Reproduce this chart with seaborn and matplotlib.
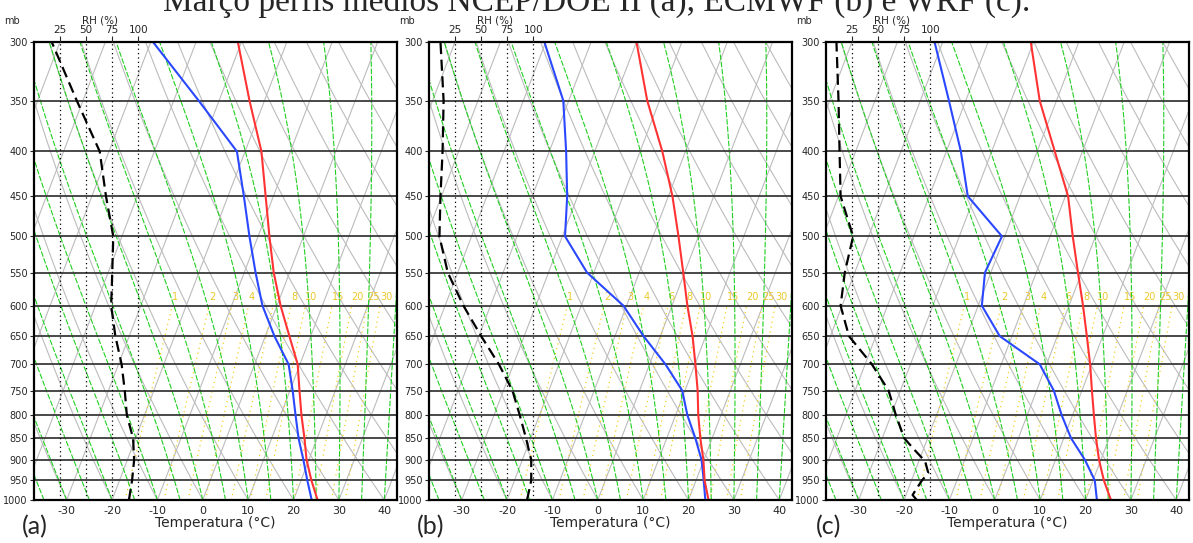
import numpy as np
import pandas as pd
import matplotlib
matplotlib.use("Agg")
import matplotlib.pyplot as plt
import seaborn as sns

# ---------------- data ----------------
p_levels = [1000, 950, 900, 850, 800, 750, 700, 650, 600, 550, 500, 450, 400, 350, 300]

# (a) NCEP/DOE II
t_ncep = [25.3, 22.3, 19.5, 17.2, 14.6, 12.1, 9.5, 5.3, 0.8, -3.5, -7.5, -11.7, -16.4, -23.3, -30.8]
td_ncep = [24.0, 21.4, 18.8, 15.9, 13.3, 10.6, 7.5, 2.0, -3.2, -7.5, -11.9, -16.5, -21.8, -34.5, -49.5]
rh_ncep = [91, 94, 96, 95, 89, 87, 84, 78, 74, 75, 76, 69, 63, 41, 17]

# (b) ECMWF
t_ecmwf = [24.4, 21.9, 19.9, 17.4, 15.0, 12.8, 10.1, 7.1, 3.4, -0.3, -4.4, -9.1, -15.1, -22.7, -30.0]
td_ecmwf = [23.7, 21.7, 19.5, 16.3, 12.6, 9.4, 3.5, -3.7, -10.7, -21.5, -29.4, -32.3, -36.3, -41.2, -50.3]
rh_ecmwf = [94, 98, 98, 93, 87, 80, 67, 50, 33, 18, 10, 11, 13, 14, 11]

# (c) WRF
t_wrf = [25.6, 22.4, 19.6, 17.1, 14.7, 12.2, 9.6, 6.5, 3.1, -0.8, -5.0, -9.4, -16.1, -23.7, -30.6]
td_wrf = [22.5, 20.4, 16.5, 11.6, 7.6, 3.8, -1.5, -12.7, -19.2, -21.3, -20.6, -31.5, -36.8, -43.7, -51.8]
p_rh_wrf = [1000, 987, 974, 950, 931, 903, 877, 850, 800, 750, 700, 650, 600, 550, 500, 450, 400, 350, 300]
rh_wrf = [87, 83, 86, 92, 98, 95, 85, 75, 67, 60, 44, 22, 14, 18, 26, 14, 13, 12, 10]

panel_letters = ["(a)", "(b)", "(c)"]
pressure_ticks = [300, 350, 400, 450, 500, 550, 600, 650, 700, 750, 800, 850, 900, 950, 1000]
temp_ticks = [-30, -20, -10, 0, 10, 20, 30, 40]
rh_ticks = [25, 50, 75, 100]
mixing_ratios = [1, 2, 3, 4, 6, 8, 10, 15, 20, 25, 30]
title_text = "Março perfis médios NCEP/DOE II (a), ECMWF (b) e WRF (c)."

# ---------------- thermodynamic helpers ----------------
SKEW = 32.0


def skew(T, p):
    return np.asarray(T, float) + SKEW * np.log(1000.0 / np.asarray(p, float))


def es(tc):
    return 6.112 * np.exp(17.67 * tc / (tc + 243.5))


def moist_lapse(tk, p):
    Rd, cp, L, eps = 287.0, 1005.0, 2.5e6, 0.622
    e = es(tk - 273.15)
    rs = eps * e / (p - e)
    num = (Rd * tk / cp) * (1 + L * rs / (Rd * tk))
    den = 1 + L * L * rs * eps / (cp * Rd * tk * tk)
    return num / den


def moist_adiabat(t0, p):
    lnp = np.log(p)
    T = np.empty_like(p)
    T[0] = t0 + 273.15
    for i in range(1, len(p)):
        d = lnp[i] - lnp[i - 1]
        k1 = moist_lapse(T[i - 1], p[i - 1])
        Tm = T[i - 1] + k1 * d / 2
        pm = np.exp(lnp[i - 1] + d / 2)
        k2 = moist_lapse(Tm, pm)
        T[i] = T[i - 1] + k2 * d
    return T - 273.15


def mixing_td(w, p):
    e = w * p / (622.0 + w)
    a = np.log(e / 6.112)
    return 243.5 * a / (17.67 - a)


# ---------------- figure ----------------
sns.set_style("white")
plt.rcParams["font.family"] = ["DejaVu Sans"]
W, H = 1193, 543
fig = plt.figure(figsize=(W / 100, H / 100), dpi=100)
fig.patch.set_facecolor("white")

XMIN, XMAX = -37.2, 42.8
panels = [
    dict(left=34, T=t_ncep, Td=td_ncep, rh=rh_ncep, prh=p_levels, lx=22),
    dict(left=429, T=t_ecmwf, Td=td_ecmwf, rh=rh_ecmwf, prh=p_levels, lx=417),
    dict(left=826, T=t_wrf, Td=td_wrf, rh=rh_wrf, prh=p_rh_wrf, lx=816),
]

pp = np.geomspace(1000, 300, 160)

for i, pn in enumerate(panels):
    ax = fig.add_axes([pn["left"] / W, (H - 500) / H, 363 / W, 458 / H])
    ax.set_yscale("log")
    ax.set_xlim(XMIN, XMAX)
    ax.set_ylim(1000, 300)

    # isotherms
    for t0 in range(-140, 50, 10):
        ax.plot(skew(np.full_like(pp, t0), pp), pp, color="#bcbcbc", lw=0.8, zorder=1)
    # dry adiabats
    for t0 in range(-40, 200, 10):
        th = t0 + 273.15
        T = th * (pp / 1000.0) ** 0.2857 - 273.15
        ax.plot(skew(T, pp), pp, color="#bcbcbc", lw=0.8, zorder=1)
    # mixing ratio lines
    pm = np.geomspace(1000, 600, 60)
    for w in mixing_ratios:
        ax.plot(skew(mixing_td(w, pm), pm), pm, color="#f2d024", lw=0.9,
                ls=(0, (1, 3)), zorder=1.2)
        ax.text(skew(mixing_td(w, 600.0), 600.0), 594, str(w), color="#ecc82a",
                fontsize=7, ha="left", va="bottom", zorder=1.3, clip_on=True)
    # moist adiabats
    for t0 in np.arange(-40, 41, 5):
        T = moist_adiabat(float(t0), pp)
        ax.plot(skew(T, pp), pp, color="#22d022", lw=0.8, ls=(0, (5, 1.5)), zorder=1.5)

    # isobars
    for p in pressure_ticks[1:-1]:
        ax.axhline(p, color="#3a3a3a", lw=1.3, zorder=2)

    # RH axis
    ax2 = ax.twiny()
    ax2.set_xlim(0, 348)
    for r in rh_ticks:
        ax2.axvline(r, color="black", lw=0.9, ls=(0, (1, 2.5)), zorder=2)

    # data
    df = pd.DataFrame({"T": skew(pn["T"], p_levels), "Td": skew(pn["Td"], p_levels),
                       "p": p_levels})
    sns.lineplot(data=df, x="Td", y="p", sort=False, estimator=None, color="#2a48ff",
                 lw=1.5, ax=ax, zorder=4)
    sns.lineplot(data=df, x="T", y="p", sort=False, estimator=None, color="#ff3333",
                 lw=1.5, ax=ax, zorder=4)
    dfr = pd.DataFrame({"rh": pn["rh"], "p": pn["prh"]})
    sns.lineplot(data=dfr, x="rh", y="p", sort=False, estimator=None, color="black",
                 lw=1.6, ax=ax2, zorder=4)
    ax2.lines[-1].set_dashes([5, 2.5])
    ax2.set_ylim(1000, 300)

    # axes cosmetics
    ax.set_yticks(pressure_ticks)
    ax.set_yticklabels([str(p) for p in pressure_ticks])
    ax.yaxis.set_minor_locator(matplotlib.ticker.NullLocator())
    ax.set_xticks(temp_ticks)
    ax.set_xticklabels([str(t) for t in temp_ticks])
    ax.tick_params(axis="y", which="major", length=3, width=0.8, pad=1.5,
                   labelsize=7, left=True, direction="out")
    ax.tick_params(axis="x", length=0, pad=4, labelsize=8)
    ax.set_xlabel("Temperatura (°C)", fontsize=10, labelpad=0)
    ax.set_ylabel("")
    ax2.set_xticks(rh_ticks)
    ax2.set_xticklabels([str(r) for r in rh_ticks])
    ax2.tick_params(axis="x", length=4, width=0.8, pad=1, labelsize=7.5, direction="out")
    ax2.set_xlabel("")
    ax2.set_ylabel("")
    for s in ax.spines.values():
        s.set_linewidth(1.6)
        s.set_color("black")
        s.set_zorder(5)
    for s in ax2.spines.values():
        s.set_visible(False)

    ax.text(-0.06, 1.036, "mb", transform=ax.transAxes, fontsize=7, ha="center", va="bottom")
    ax.text(0.181, 1.036, "RH (%)", transform=ax.transAxes, fontsize=7.5, ha="center",
            va="bottom")

    fig.text(pn["lx"] / W, 1 - 527 / H, panel_letters[i], fontsize=18, family="Lato",
             ha="left", va="center")

fig.text(597 / W, 1 - 11 / H, title_text, fontsize=24, family="Liberation Serif",
         ha="center", va="baseline")

fig.savefig("out.png", dpi=100, facecolor="white")
